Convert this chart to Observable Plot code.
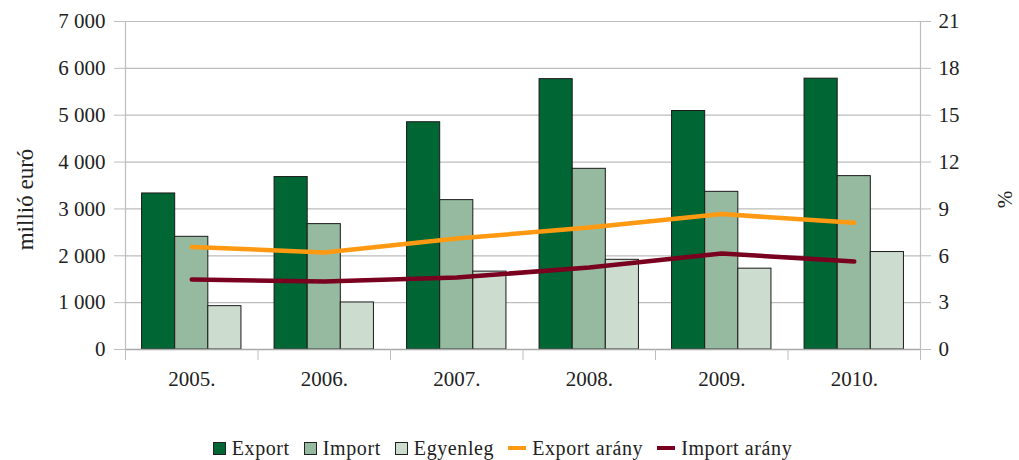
<!DOCTYPE html>
<html><head><meta charset="utf-8">
<script src="https://cdn.jsdelivr.net/npm/d3@7"></script>
<script src="https://cdn.jsdelivr.net/npm/@observablehq/plot@0.6"></script>
<style>
body{margin:0;background:#fff;font-family:"Liberation Serif",serif;}
#chart svg{display:block;}
#legend{display:flex;justify-content:center;align-items:center;font-size:20px;letter-spacing:0.6px;color:#222;height:24px;gap:14px;padding-right:14px;}
#legend .item{display:flex;align-items:center;gap:6px;}
#legend .sq{width:13px;height:13px;border:1px solid #222;box-sizing:border-box;}
#legend .ln{width:18px;height:4px;}
</style></head><body><div id="chart"></div><div id="legend"></div>
<script>
const years = [2005, 2006, 2007, 2008, 2009, 2010];
const yearLabels = ["2005.", "2006.", "2007.", "2008.", "2009.", "2010."];
const seriesNames = ["Export", "Import", "Egyenleg"];
const exportValues = [3330, 3680, 4850, 5770, 5090, 5780];
const importValues = [2405, 2676, 3188, 3856, 3365, 3700];
const balanceValues = [925, 1004, 1662, 1914, 1725, 2080];
const exportRatio = [6.57, 6.21, 7.10, 7.81, 8.67, 8.11];
const importRatio = [4.48, 4.35, 4.61, 5.25, 6.15, 5.63];
const lineNames = ["Export arány", "Import arány"];
const leftTicks = [0, 1000, 2000, 3000, 4000, 5000, 6000, 7000];
const rightTicks = [0, 3, 6, 9, 12, 15, 18, 21];

const barColors = ["#006633", "#95ba9f", "#ccddd0"];
const lineColors = ["#ff9912", "#7a0020"];
const scaleFactor = 7000 / 21;

const seriesArrays = [exportValues, importValues, balanceValues];
const bars = [];
years.forEach((yr, j) => {
  seriesArrays.forEach((arr, i) => {
    bars.push({series: seriesNames[i], value: arr[j], x1: yr - 0.375 + i * 0.25, x2: yr - 0.125 + i * 0.25});
  });
});
const lines = [];
[exportRatio, importRatio].forEach((arr, i) => {
  years.forEach((yr, j) => lines.push({series: lineNames[i], year: yr, pct: arr[j], v: arr[j] * scaleFactor}));
});
const boundaries = d3.range(years.length + 1).map(i => years[0] - 0.5 + i);
const fmt = d => d3.format(",")(d).replace(/,/g, " ");
const tickFont = 21;

const chart = Plot.plot({
  width: 1019,
  height: 436,
  marginLeft: 125,
  marginRight: 99,
  marginTop: 21,
  marginBottom: 87,
  style: {fontFamily: '"Liberation Serif", serif', fontSize: "20px", color: "#222", background: "#fff"},
  x: {type: "linear", domain: [boundaries[0], boundaries[boundaries.length - 1]]},
  y: {domain: [0, 7000]},
  color: {domain: seriesNames.concat(lineNames), range: barColors.concat(lineColors)},
  marks: [
    Plot.ruleY(leftTicks, {stroke: "#bdbdbd", strokeWidth: 1.2}),
    Plot.axisY({ticks: leftTicks, tickSize: 11, tickPadding: 9, tickFormat: fmt, stroke: "#bdbdbd", fill: "#222", fontSize: tickFont, label: null}),
    Plot.axisY({anchor: "right", ticks: leftTicks, tickSize: 10, tickPadding: 8, tickFormat: d => d / scaleFactor, stroke: "#bdbdbd", fill: "#222", fontSize: tickFont, label: null}),
    Plot.ruleX([boundaries[0], boundaries[boundaries.length - 1]], {stroke: "#bdbdbd", strokeWidth: 1.2}),
    Plot.rectY(bars, {x1: "x1", x2: "x2", y: "value", fill: "series", stroke: "#1a1a1a", strokeWidth: 1}),
    Plot.ruleY([0], {stroke: "#a8a8a8", strokeWidth: 1.5}),
    Plot.axisX({ticks: boundaries, tickSize: 11, tickFormat: () => "", stroke: "#bdbdbd", label: null}),
    Plot.axisX({ticks: years, tickSize: 0, tickPadding: 22, tickFormat: d => yearLabels[years.indexOf(d)], fill: "#222", fontSize: tickFont, label: null}),
    Plot.line(lines, {x: "year", y: "v", stroke: "series", z: "series", strokeWidth: 4.5}),
    Plot.text(["millió euró"], {frameAnchor: "left", textAnchor: "middle", dx: -100, dy: 14, rotate: -90, fontSize: 23, fill: "#222"}),
    Plot.text(["%"], {frameAnchor: "right", textAnchor: "middle", dx: 85, dy: 14, rotate: -90, fontSize: 21, fill: "#222"})
  ]
});
document.getElementById("chart").appendChild(chart);

const legend = document.getElementById("legend");
seriesNames.forEach((n, i) => {
  const it = document.createElement("div"); it.className = "item";
  it.innerHTML = `<span class="sq" style="background:${barColors[i]}"></span><span>${n}</span>`;
  legend.appendChild(it);
});
lineNames.forEach((n, i) => {
  const it = document.createElement("div"); it.className = "item";
  it.innerHTML = `<span class="ln" style="background:${lineColors[i]}"></span><span>${n}</span>`;
  legend.appendChild(it);
});
</script>
</body></html>
